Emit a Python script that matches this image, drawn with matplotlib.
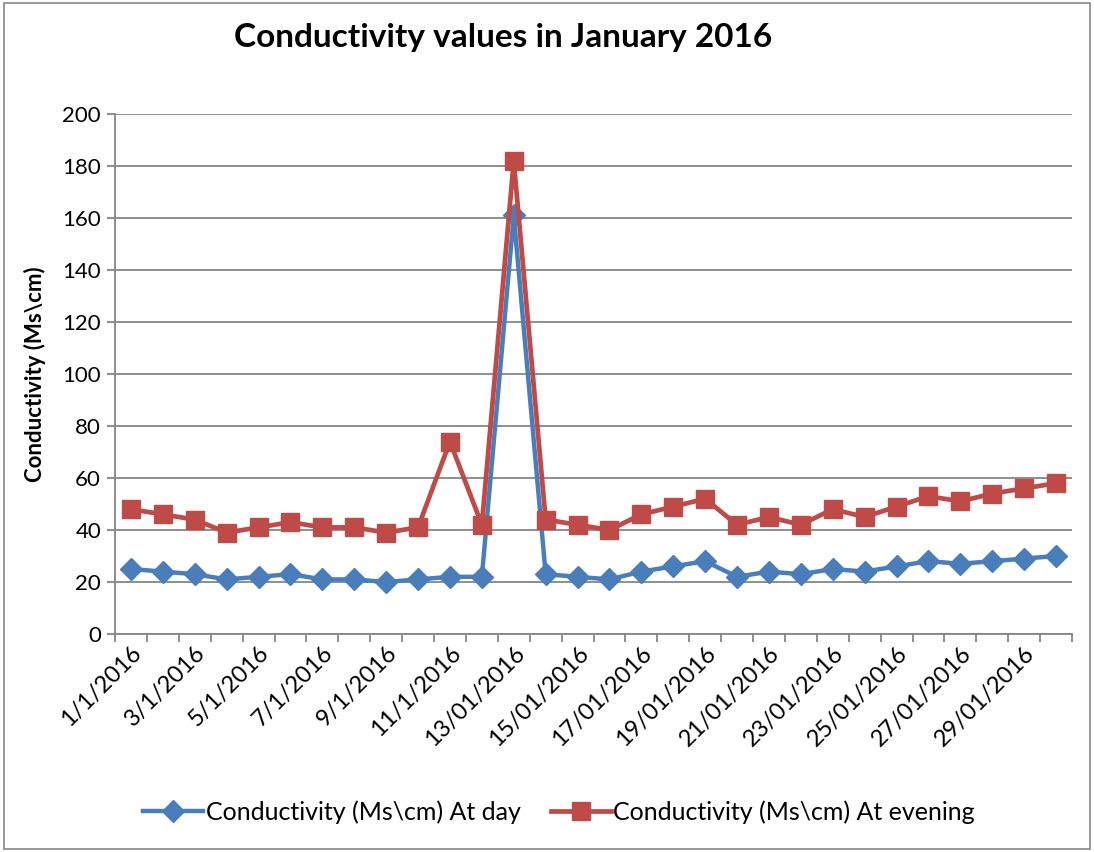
import matplotlib
matplotlib.use("Agg")
import matplotlib.pyplot as plt
import numpy as np

plt.rcParams['font.family'] = ['Lato', 'DejaVu Sans']

# dates, one label per day (every other one is shown)
days = [f"{d}/1/2016" if d <= 11 else f"{d}/01/2016" for d in range(1, 31)]

day_values = [25, 24, 23, 21, 22, 23, 21, 21, 20, 21,
              22, 22, 161, 23, 22, 21, 24, 26, 28, 22,
              24, 23, 25, 24, 26, 28, 27, 28, 29, 30]
evening_values = [48, 46, 44, 39, 41, 43, 41, 41, 39, 41,
                  74, 42, 182, 44, 42, 40, 46, 49, 52, 42,
                  45, 42, 48, 45, 49, 53, 51, 54, 56, 58]

blue = '#4a7ebb'
red = '#be4b48'
grid_gray = '#868686'

fig = plt.figure(figsize=(10.94, 8.52), dpi=100)
ax = fig.add_axes([115 / 1094, 1 - 634 / 852, (1072 - 115) / 1094, (634 - 114) / 852])

x = np.arange(len(days))
ax.plot(x, day_values, color=blue, lw=3.2, marker='D', ms=11,
        label='Conductivity (Ms\\cm) At day')
ax.plot(x, evening_values, color=red, lw=3.4, marker='s', ms=13,
        label='Conductivity (Ms\\cm) At evening')

ax.set_xlim(-0.5, len(days) - 0.5)
ax.set_ylim(0, 200)
ax.set_yticks(range(0, 201, 20))
ax.yaxis.grid(True, color=grid_gray, lw=1.3)
ax.set_axisbelow(True)

# category boundaries carry the tick marks, labels sit on every other category
ax.set_xticks(np.arange(-0.5, len(days), 1.0))
ax.set_xticklabels([])
ax.set_xticks(x[::2], minor=True)
ax.set_xticklabels(days[::2], minor=True, rotation=45, ha='right',
                   rotation_mode='anchor', fontsize=17)
ax.tick_params(axis='x', which='major', length=6, color=grid_gray, width=1.3)
ax.tick_params(axis='x', which='minor', length=0, pad=6)
ax.tick_params(axis='y', length=6, color=grid_gray, width=1.3, labelsize=16,
               direction='out', pad=4)

for side in ['top', 'right']:
    ax.spines[side].set_visible(False)
for side in ['left', 'bottom']:
    ax.spines[side].set_color(grid_gray)
    ax.spines[side].set_linewidth(1.3)

ax.set_ylabel('Conductivity (Ms\\cm)', fontsize=16, fontweight='bold', labelpad=12)
fig.text(503 / 1094, 1 - 37 / 852, 'Conductivity values in January 2016',
         ha='center', va='center', fontsize=24, fontweight='bold')

fig.legend(loc='center', bbox_to_anchor=(559 / 1094, 1 - 812 / 852), ncol=2,
           frameon=False, fontsize=18, handlelength=2.4, columnspacing=1.2,
           handletextpad=0.1)

# outer chart border
fig.patches.append(plt.Rectangle((0.004, 0.004), 0.992, 0.992, transform=fig.transFigure,
                                 fill=False, edgecolor=grid_gray, lw=1.2))

fig.savefig('out.png', dpi=100)
